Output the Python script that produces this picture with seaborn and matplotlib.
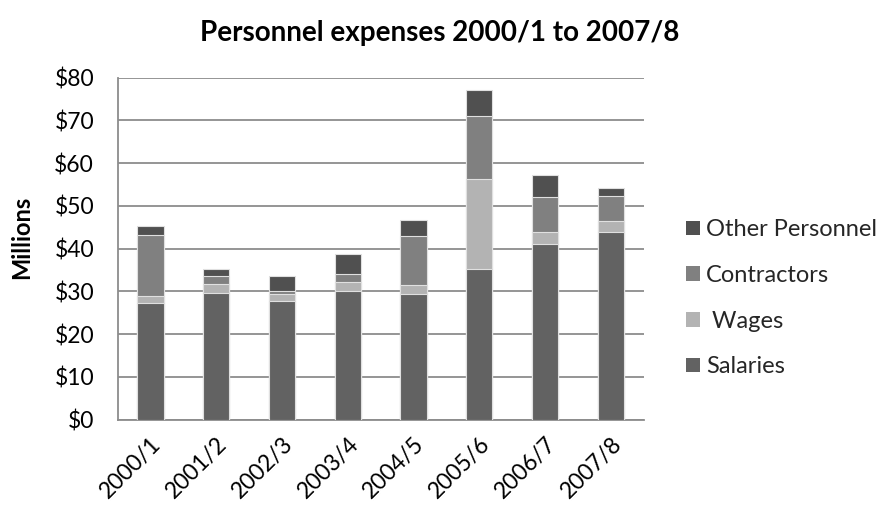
import numpy as np
import pandas as pd
import matplotlib
matplotlib.use("Agg")
import matplotlib.pyplot as plt
import seaborn as sns
from matplotlib.patches import Patch

years = ["2000/1", "2001/2", "2002/3", "2003/4", "2004/5", "2005/6", "2006/7", "2007/8"]
salaries = [27.4, 29.7, 27.8, 30.0, 29.4, 35.3, 41.2, 43.9]
wages = [1.5, 2.0, 1.6, 2.1, 2.1, 20.9, 2.7, 2.6]
contractors = [14.3, 1.9, 0.8, 2.0, 11.5, 14.9, 8.2, 5.8]
other_personnel = [2.1, 1.6, 3.4, 4.7, 3.7, 6.0, 5.1, 1.8]

series_names = ["Salaries", " Wages", "Contractors", "Other Personnel"]
series_colors = ["#626262", "#b3b3b3", "#808080", "#505050"]

sns.set_theme(style="white")
plt.rcParams["font.family"] = ["Lato", "DejaVu Sans"]

fig = plt.figure(figsize=(8.8, 5.14), dpi=100)
ax = fig.add_axes([0.1337, 0.1835, 0.5977, 0.6654])

df = pd.DataFrame({"year": years, "Salaries": salaries, " Wages": wages,
                   "Contractors": contractors, "Other Personnel": other_personnel})
cum = df[series_names].cumsum(axis=1)

for name, col in reversed(list(zip(series_names, series_colors))):
    sns.barplot(x=df["year"], y=cum[name], color=col, width=0.4,
                edgecolor="#e0e0e0", linewidth=0.8, ax=ax, zorder=3)

ax.set_ylim(0, 80)
ax.set_xlim(-0.5, 7.5)
ax.set_yticks(np.arange(0, 81, 10))
ax.set_yticklabels([f"${v}" for v in range(0, 81, 10)], fontsize=16.5, color="#000000")
ax.yaxis.grid(True, color="#8c8c8c", linewidth=1.3, zorder=0)
ax.set_axisbelow(True)
for s in ["top", "right"]:
    ax.spines[s].set_visible(False)
ax.spines["left"].set_color("#8c8c8c")
ax.spines["left"].set_linewidth(1.3)
ax.spines["bottom"].set_color("#8c8c8c")
ax.spines["bottom"].set_linewidth(1.3)
ax.tick_params(axis="y", left=False, pad=11)
ax.tick_params(axis="x", bottom=False, pad=4)
ax.set_xticks(range(len(years)))
ax.set_xticklabels(years, rotation=45, ha="right", va="top", rotation_mode="anchor",
                   fontsize=16.5, color="#000000")
ax.set_xlabel("")
ax.set_ylabel("Millions", fontsize=17, fontweight="bold", color="#000000")
ax.yaxis.set_label_coords(-0.16, 0.534)

fig.text(0.5, 1 - 33 / 514, "Personnel expenses 2000/1 to 2007/8", ha="center", va="center",
         fontsize=20, fontweight="bold", color="#000000")

handles = [Patch(facecolor=c, edgecolor="none") for c in reversed(series_colors)]
labels = list(reversed(series_names))
fig.legend(handles, labels, loc="upper left", bbox_to_anchor=(0.769, 0.5914), frameon=False,
           fontsize=17, handlelength=0.58, handleheight=0.58, handletextpad=0.27,
           labelspacing=1.045, borderaxespad=0)

fig.savefig("out.png", dpi=100)
